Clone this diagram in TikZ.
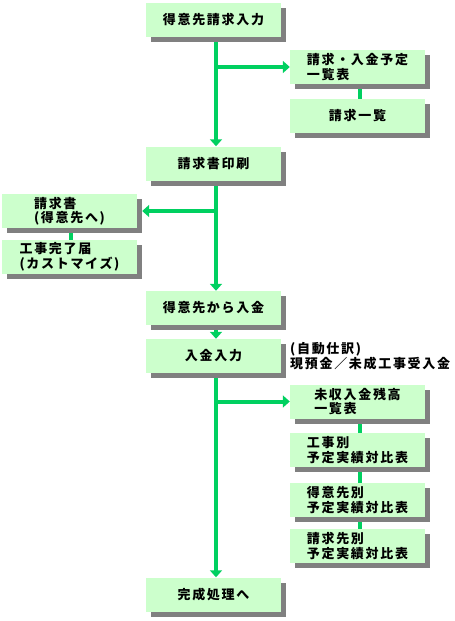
\documentclass[tikz,border=0pt]{standalone}
\usepackage{fontspec}
\usepackage{tikz}
\usetikzlibrary{shadows, backgrounds, arrows.meta}
\newfontfamily\jpfont[LetterSpace=13]{Noto Sans CJK JP}
\definecolor{boxgreen}{HTML}{CCFFCC}
\definecolor{flowgreen}{HTML}{00D060}
\definecolor{shadegray}{HTML}{808080}

\begin{document}
\begin{tikzpicture}[
      x=1pt, y=-1pt,
      font=\jpfont\bfseries\fontsize{13}{14.5}\selectfont,
      box/.style={fill=boxgreen, minimum width=135pt, minimum height=34pt, inner sep=2pt, align=left,
        drop shadow={shadow xshift=5pt, shadow yshift=-5pt, fill=shadegray, opacity=1}},
      arr/.style={-{Triangle[width=12pt, length=7pt]}, line width=4pt, flowgreen},
      link/.style={line width=4pt, flowgreen},
    ]
    \useasboundingbox (0,0) rectangle (455,621);
    \coordinate (spine) at (216,0);
    \coordinate (rspine) at (360,0);
    \coordinate (lspine) at (71,0);

    \node[box] (inv) at (213.5,20) {得意先請求入力};
    \node[box] (plan) at (357.5,67) {請求・入金予定\\一覧表};
    \node[box] (billist) at (357.5,116) {請求一覧};
    \node[box] (print) at (213.5,163.5) {請求書印刷};
    \node[box] (bill) at (69.5,211) {請求書\\(得意先へ)};
    \node[box] (comp) at (69.5,257) {工事完了届\\(カストマイズ)};
    \node[box] (recv) at (213.5,308) {得意先から入金};
    \node[box] (entry) at (213.5,356) {入金入力};
    \node[anchor=west, align=left, inner sep=0pt] (auto) at (290,356) {(自動仕訳)\\現預金／未成工事受入金};
    \node[box] (unpaid) at (357.5,401.5) {未収入金残高\\一覧表};
    \node[box] (bysite) at (357.5,450) {工事別\\予定実績対比表};
    \node[box] (bycust) at (357.5,500) {得意先別\\予定実績対比表};
    \node[box] (bypayer) at (357.5,546) {請求先別\\予定実績対比表};
    \node[box] (fin) at (213.5,594.5) {完成処理へ};

    \begin{scope}[on background layer]
      \draw[arr] (inv.south -| spine) -- (print.north -| spine);
      \draw[arr] (plan.west -| spine) -- (plan.west);
      \draw[link] (plan.south -| rspine) -- (billist.north -| rspine);
      \draw[arr] (print.south -| spine) -- (recv.north -| spine);
      \draw[arr] (bill.east -| spine) -- ([xshift=5pt]bill.east);
      \draw[link] (bill.south -| lspine) -- (comp.north -| lspine);
      \draw[arr] (recv.south -| spine) -- (entry.north -| spine);
      \draw[arr] (entry.south -| spine) -- (fin.north -| spine);
      \draw[arr] (unpaid.west -| spine) -- (unpaid.west);
      \draw[link] (unpaid.south -| rspine) -- (bysite.north -| rspine);
      \draw[link] (bysite.south -| rspine) -- (bycust.north -| rspine);
      \draw[link] (bycust.south -| rspine) -- (bypayer.north -| rspine);
    \end{scope}
  \end{tikzpicture}
\end{document}
